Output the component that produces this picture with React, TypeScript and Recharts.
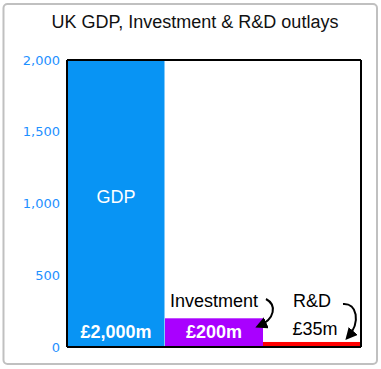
import { BarChart, Bar, XAxis, YAxis } from "recharts";

const categories = ["GDP", "Investment", "R&D"];
const outlays = [2000, 200, 35];
const yTicks = [0, 500, 1000, 1500, 2000];
const barColors = ["#0894f4", "#a900ff", "#ff0000"];

const data = categories.map((name, i) => ({ name, value: outlays[i] }));

const FONT = "'Liberation Sans', Arial, sans-serif";

const fmtMoney = (v: number) => `£${v.toLocaleString("en-GB")}m`;

// bar + its annotations (name, value, curved arrow for the small bars)
const OutlayBar = (props: any) => {
  const { x, y, width, height, index } = props;
  const cx = x + width / 2;
  const bottom = y + height;
  const right = x + width;
  const name = categories[index];
  const value = outlays[index];
  const big = height > 40;
  const valueInside = height > 20;

  let arrow = null;
  if (index === 1) {
    arrow = `M${right + 3},${bottom - 48} C${right + 14},${bottom - 42} ${right + 12},${bottom - 28} ${right - 4},${bottom - 21}`;
  } else if (index === 2) {
    arrow = `M${right - 18},${bottom - 43} C${right - 4},${bottom - 44} ${right},${bottom - 25} ${right - 13},${bottom - 10}`;
  }

  return (
    <g>
      <defs>
        <marker id={`ah${index}`} markerWidth="6" markerHeight="6" refX="4" refY="3" orient="auto" markerUnits="strokeWidth">
          <path d="M0,0 L6,3 L0,6 z" fill="#000" />
        </marker>
      </defs>
      <rect x={x} y={y} width={width} height={height} fill={barColors[index]} stroke={index === 0 ? "#fff" : "none"} strokeWidth={1} />
      {big ? (
        <text x={cx} y={y + height / 2 - 1} textAnchor="middle" fill="#fff" fontSize={18} fontFamily={FONT}>
          {name}
        </text>
      ) : (
        <text x={cx} y={bottom - 40} textAnchor="middle" fill="#000" fontSize={18} fontFamily={FONT}>
          {name}
        </text>
      )}
      {valueInside ? (
        <text x={cx} y={bottom - 9} textAnchor="middle" fill="#fff" fontSize={18} fontWeight="bold" fontFamily={FONT}>
          {fmtMoney(value)}
        </text>
      ) : (
        <text x={cx + 3} y={bottom - 12} textAnchor="middle" fill="#000" fontSize={18} fontFamily={FONT}>
          {fmtMoney(value)}
        </text>
      )}
      {arrow && <path d={arrow} fill="none" stroke="#000" strokeWidth={2} markerEnd={`url(#ah${index})`} />}
    </g>
  );
};

const boxLine = { stroke: "#000", strokeWidth: 2 };

export default function App() {
  return (
    <div style={{ position: "absolute", left: 0, top: 0, width: 381, height: 369, background: "#fff" }}>
      <svg width={381} height={369} style={{ position: "absolute", left: 0, top: 0 }}>
        <rect x={3.5} y={4} width={373.5} height={360} rx={4} fill="#fff" stroke="#c0c0c0" strokeWidth={2} />
        <text x={195} y={28} textAnchor="middle" fontSize={18} fontFamily={FONT} fill="#111">
          UK GDP, Investment &amp; R&amp;D outlays
        </text>
      </svg>
      <div style={{ position: "absolute", left: 0, top: 0 }}>
        <BarChart width={381} height={369} data={data} margin={{ top: 59, right: 19, bottom: 21, left: 7 }} barCategoryGap={0}>
          <Bar dataKey="value" isAnimationActive={false} shape={OutlayBar} />
          <XAxis dataKey="name" tick={false} height={1} axisLine={boxLine} tickLine={false} />
          <XAxis xAxisId="top" orientation="top" dataKey="name" tick={false} height={1} axisLine={boxLine} tickLine={false} />
          <YAxis
            domain={[0, 2000]}
            ticks={yTicks}
            width={60}
            tickSize={0}
            tickMargin={7}
            tickLine={false}
            axisLine={boxLine}
            tickFormatter={(v: number) => v.toLocaleString("en-GB")}
            tick={{ fill: "#1e90ff", fontSize: 13, fontFamily: "'DejaVu Sans', Verdana, sans-serif" }}
          />
          <YAxis yAxisId="r" orientation="right" domain={[0, 2000]} width={1} tick={false} tickLine={false} axisLine={boxLine} />
        </BarChart>
      </div>
    </div>
  );
}
